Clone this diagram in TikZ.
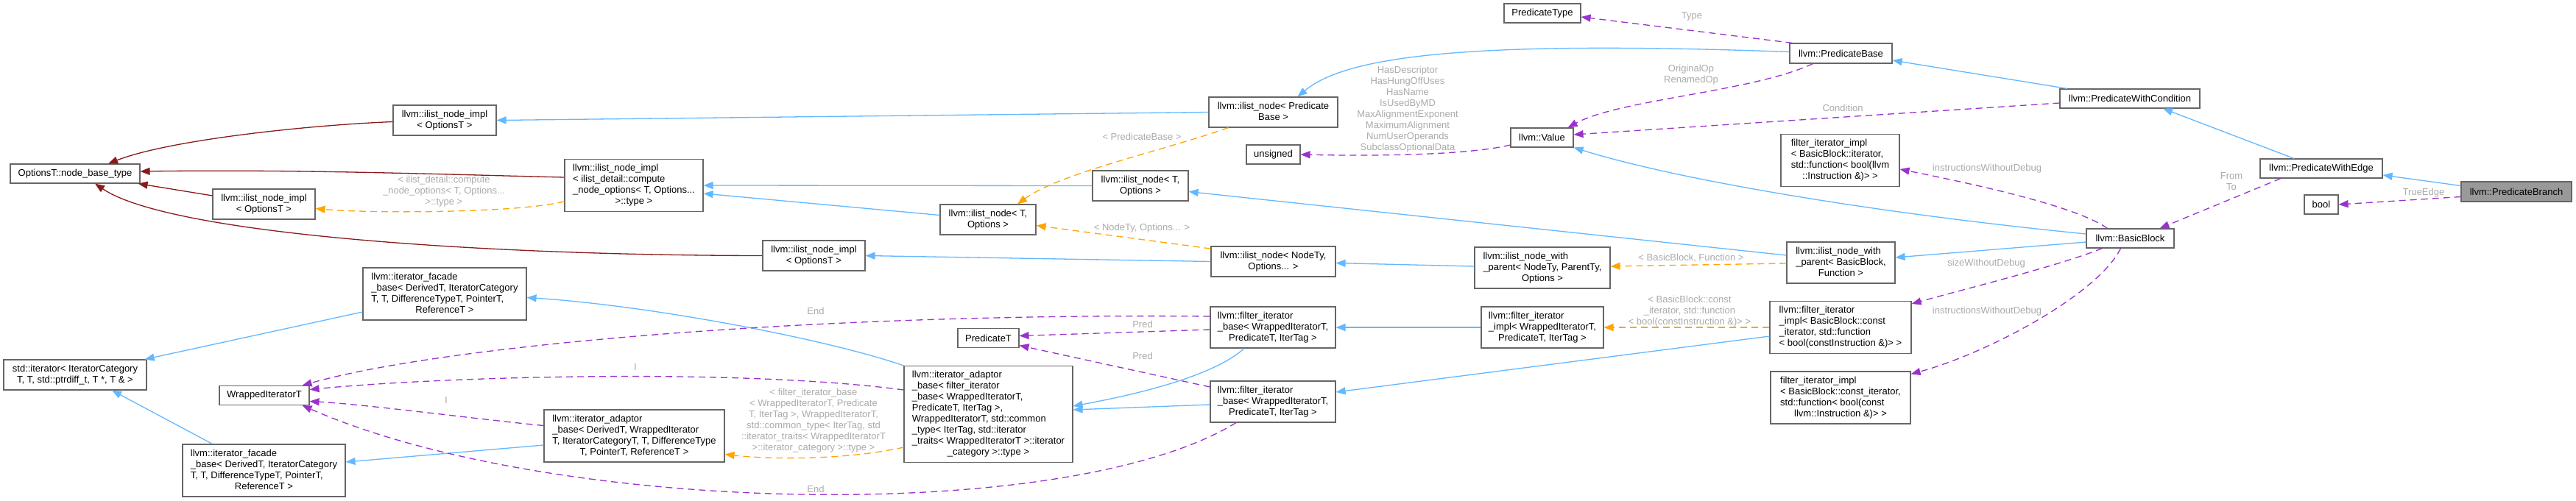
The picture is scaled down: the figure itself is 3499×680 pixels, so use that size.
\documentclass[tikz,border=0pt]{standalone}
\usepackage{fontspec}
\setmainfont{Liberation Sans}
\usetikzlibrary{arrows.meta}
\definecolor{inhblue}{HTML}{63B8FF}
\definecolor{usepurple}{HTML}{9A32CD}
\definecolor{tplorange}{HTML}{FFA500}
\definecolor{nbred}{HTML}{8B1A1A}
\definecolor{boxgray}{HTML}{666666}
\definecolor{lblgray}{HTML}{ABABAB}
\definecolor{selgray}{HTML}{999999}
\newcommand{\mlines}[2]{\begin{tabular}{@{}l@{}}#1\\\multicolumn{1}{@{}c@{}}{#2}\end{tabular}}
\tikzset{
  box/.style={draw=boxgray, line width=1.1pt, fill=white, inner sep=0pt, text=black,
    font=\fontsize{13}{15}\selectfont},
  sz/.style 2 args={minimum width=#1pt, minimum height=#2pt},
  lbl/.style={text=lblgray, inner sep=0pt, align=center, font=\fontsize{13}{15}\selectfont},
  tip/.style={-{Triangle[length=13pt,width=10pt]}},
  inhedge/.style={draw=inhblue, line width=1.3pt, tip},
  nbedge/.style={draw=nbred, line width=1.3pt, tip},
  usedge/.style={draw=usepurple, line width=1.3pt, dash pattern=on 9pt off 6pt, tip},
  tpledge/.style={draw=tplorange, line width=1.3pt, dash pattern=on 9pt off 6pt, tip},
}
\begin{document}
\begin{tikzpicture}[x=1pt,y=-1pt]
\fill[white] (0,0) rectangle (3499,680);
\useasboundingbox (0,0) rectangle (3499,680);

% ---------- nodes ----------
\node[box,sz={176}{26}] (nbt) at (102,236) {OptionsT::node\_base\_type};
\node[box,sz={140}{41}] (inimplA) at (604,163.5) {\mlines{llvm::ilist\_node\_impl}{< OptionsT >}};
\node[box,sz={139}{41}] (inimplB) at (358.5,277.5) {\mlines{llvm::ilist\_node\_impl}{< OptionsT >}};
\node[box,sz={188}{71}] (inimplC) at (861,252) {\mlines{llvm::ilist\_node\_impl\\< ilist\_detail::compute\\\_node\_options< T, Options...}{>::type >}};
\node[box,sz={139}{41}] (inimplD) at (1105.5,347.5) {\mlines{llvm::ilist\_node\_impl}{< OptionsT >}};
\node[box,sz={222}{71}] (facadeA) at (604,399.5) {\mlines{llvm::iterator\_facade\\\_base< DerivedT, IteratorCategory\\T, T, DifferenceTypeT, PointerT,}{ReferenceT >}};
\node[box,sz={194}{41}] (stditer) at (102,509.5) {\mlines{std::iterator< IteratorCategory}{T, T, std::ptrdiff\_t, T *, T \& >}};
\node[box,sz={122}{26}] (wrapped) at (359,537.5) {WrappedIteratorT};
\node[box,sz={221}{71}] (facadeB) at (358.5,639.5) {\mlines{llvm::iterator\_facade\\\_base< DerivedT, IteratorCategory\\T, T, DifferenceTypeT, PointerT,}{ReferenceT >}};
\node[box,sz={245}{71}] (adaptorA) at (861.5,592.5) {\mlines{llvm::iterator\_adaptor\\\_base< DerivedT, WrappedIterator\\T, IteratorCategoryT, T, DifferenceType}{T, PointerT, ReferenceT >}};
\node[box,sz={229}{131}] (adaptorB) at (1342.5,563) {\mlines{llvm::iterator\_adaptor\\\_base< filter\_iterator\\\_base< WrappedIteratorT,\\ PredicateT, IterTag >,\\ WrappedIteratorT, std::common\\\_type< IterTag, std::iterator\\\_traits< WrappedIteratorT >::iterator}{\_category >::type >}};
\node[box,sz={83}{26}] (predT) at (1342.5,459.5) {PredicateT};
\node[box,sz={130}{41}] (inodeT2) at (1342,298.5) {\mlines{llvm::ilist\_node< T,}{Options >}};
\node[box,sz={130}{41}] (inodeT1) at (1549,252.5) {\mlines{llvm::ilist\_node< T,}{Options >}};
\node[box,sz={175}{41}] (inodePB) at (1729.5,152.5) {\mlines{llvm::ilist\_node< Predicate}{Base >}};
\node[box,sz={169}{41}] (inodeNT) at (1729.5,355.5) {\mlines{llvm::ilist\_node< NodeTy,}{Options... >}};
\node[box,sz={170}{56}] (fibA) at (1729,445) {\mlines{llvm::filter\_iterator\\\_base< WrappedIteratorT,}{PredicateT, IterTag >}};
\node[box,sz={170}{56}] (fibB) at (1729,546) {\mlines{llvm::filter\_iterator\\\_base< WrappedIteratorT,}{PredicateT, IterTag >}};
\node[box,sz={73}{26}] (unsignedn) at (1729.5,210) {unsigned};
\node[box,sz={85}{26}] (value) at (2094.5,187) {llvm::Value};
\node[box,sz={104}{26}] (predtype) at (2095,18) {PredicateType};
\node[box,sz={139}{27}] (predbase) at (2500.5,72.5) {llvm::PredicateBase};
\node[box,sz={184}{56}] (inwpNT) at (2095,364) {\mlines{llvm::ilist\_node\_with\\\_parent< NodeTy, ParentTy,}{Options >}};
\node[box,sz={166}{56}] (fiiW) at (2095,445) {\mlines{llvm::filter\_iterator\\\_impl< WrappedIteratorT,}{PredicateT, IterTag >}};
\node[box,sz={147}{56}] (inwpBB) at (2500.5,357) {\mlines{llvm::ilist\_node\_with\\\_parent< BasicBlock,}{Function >}};
\node[box,sz={161}{71}] (fiiBBit) at (2499.5,218) {\mlines{filter\_iterator\_impl\\< BasicBlock::iterator,\\ std::function< bool(llvm}{::Instruction \&)> >}};
\node[box,sz={192}{71}] (fiiConst) at (2500,445) {\mlines{llvm::filter\_iterator\\\_impl< BasicBlock::const\\\_iterator, std::function}{< bool(constInstruction \&)> >}};
\node[box,sz={190}{71}] (fiiConst2) at (2500,540.5) {\mlines{filter\_iterator\_impl\\< BasicBlock::const\_iterator,\\ std::function< bool(const}{llvm::Instruction \&)> >}};
\node[box,sz={190}{26}] (predcond) at (2893,134) {llvm::PredicateWithCondition};
\node[box,sz={166}{26}] (prededge) at (3153,229) {llvm::PredicateWithEdge};
\node[box,sz={119}{26}] (bb) at (2893.5,324) {llvm::BasicBlock};
\node[box,sz={46}{26}] (booln) at (3153,278) {bool};
\node[box,sz={150}{27},fill=selgray] (predbranch) at (3418,260.5) {llvm::PredicateBranch};

% ---------- node_base_type edges (dark red) ----------
\draw[nbedge] ([yshift=-2pt]inimplA.west) .. controls (420,170) and (230,190) .. ([xshift=45pt]nbt.north);
\draw[nbedge] ([yshift=11pt]inimplC.west) .. controls (600,237) and (400,230) .. ([yshift=3pt]nbt.east);
\draw[nbedge] ([yshift=11.5pt]inimplB.west) -- ([xshift=-3pt]nbt.south east);
\draw[nbedge] (inimplD.west) .. controls (650,347) and (230,318) .. ([xshift=27pt]nbt.south);

% ---------- inheritance (blue) ----------
\draw[inhedge] ([yshift=6pt]inodeT2.west) -- ([yshift=-11pt]inimplC.east);
\draw[inhedge] (inodeT1.west) -- (inimplC.east);
\draw[inhedge] (inodePB.west) -- (inimplA.east);
\draw[inhedge] (inodeNT.west) -- (inimplD.east);
\draw[inhedge] ([yshift=10pt]inwpBB.west) -- ([yshift=-8pt]inodeT1.east);
\draw[inhedge] ([yshift=2pt]inwpNT.west) -- ([yshift=-2pt]inodeNT.east);
\draw[inhedge] ([yshift=2pt]predbase.west) .. controls (2000,55) and (1830,75) .. ([xshift=33pt]inodePB.north);
\draw[inhedge] ([xshift=-39pt]fibA.south) .. controls (1650,510) and (1550,535) .. ([yshift=11pt]adaptorB.east);
\draw[inhedge] ([yshift=-4pt]fibB.west) -- ([yshift=6pt]adaptorB.east);
\draw[inhedge] (fiiW.west) -- (fibA.east);
\draw[inhedge] ([yshift=-12pt]fiiConst.west) -- ([yshift=13pt]fibB.east);
\draw[inhedge] (adaptorB.north west) .. controls (1120,460) and (880,415) .. ([yshift=-5pt]facadeA.east);
\draw[inhedge] ([yshift=-12.5pt]adaptorA.west) -- ([yshift=11.5pt]facadeB.east);
\draw[inhedge] ([yshift=-24.5pt]facadeA.west) -- ([xshift=-3pt]stditer.north east);
\draw[inhedge] ([xshift=-70pt]facadeB.north) -- ([xshift=50pt]stditer.south);
\draw[inhedge] ([yshift=6pt]bb.west) .. controls (2550,290) and (2280,245) .. (value.south east);
\draw[inhedge] ([yshift=-5pt]bb.west) -- ([yshift=7pt]inwpBB.east);
\draw[inhedge] ([xshift=-85pt]predcond.north) -- ([yshift=-9.5pt]predbase.east);
\draw[inhedge] ([xshift=-37pt]prededge.north) -- ([xshift=45pt]predcond.south);
\draw[inhedge] ([yshift=8pt]predbranch.west) -- ([yshift=-9pt]prededge.east);

% ---------- usage (purple dashed) ----------
\draw[usedge] ([xshift=4pt]predbase.north west) -- ([yshift=-5pt]predtype.east);
\draw[usedge] ([xshift=-38pt]predbase.south) .. controls (2380,125) and (2200,135) .. ([xshift=-8pt]value.north east);
\draw[usedge] ([yshift=-6pt]predcond.west) -- ([yshift=4pt]value.east);
\draw[usedge] ([yshift=-10pt]value.west) .. controls (1990,212) and (1850,212) .. (unsignedn.east);
\draw[usedge] ([xshift=-31pt]bb.north) .. controls (2820,280) and (2680,250) .. ([yshift=-12pt]fiiBBit.east);
\draw[usedge] ([xshift=-38pt]bb.south) .. controls (2800,360) and (2680,390) .. ([yshift=-4pt]fiiConst.north east);
\draw[usedge] ([xshift=-13pt]bb.south) .. controls (2850,400) and (2700,480) .. ([yshift=-4pt]fiiConst2.north east);
\draw[usedge] ([xshift=-55pt]prededge.south) -- ([xshift=40pt]bb.north);
\draw[usedge] ([yshift=-7pt]predbranch.west) -- (booln.east);
\draw[usedge] ([yshift=-3pt]fibA.west) -- ([yshift=3pt]predT.east);
\draw[usedge] ([yshift=20pt]fibB.west) -- ([yshift=-10pt]predT.east);
\draw[usedge] ([yshift=15pt]fibA.west) .. controls (1100,425) and (600,470) .. ([xshift=-10pt]wrapped.north east);
\draw[usedge] ([yshift=33pt]adaptorB.west) .. controls (1000,500) and (600,512) .. ([yshift=8pt]wrapped.east);
\draw[usedge] ([yshift=14pt]adaptorA.west) .. controls (650,570) and (500,550) .. ([yshift=-8pt]wrapped.east);
\draw[usedge] ([xshift=-50pt]fibB.south) .. controls (1450,715) and (750,700) .. ([xshift=-10pt]wrapped.south east);

% ---------- template instances (orange dashed) ----------
\draw[tpledge] ([xshift=-61pt]inodePB.south) .. controls (1580,205) and (1440,235) .. ([xshift=40pt]inodeT2.north);
\draw[tpledge] ([yshift=17.5pt]inodeNT.west) -- ([yshift=-8pt]inodeT2.east);
\draw[tpledge] ([yshift=-22pt]inimplC.west) .. controls (700,290) and (500,290) .. ([yshift=-6pt]inimplB.east);
\draw[tpledge] ([yshift=-1pt]inwpBB.west) -- ([yshift=2pt]inwpNT.east);
\draw[tpledge] (fiiConst.west) -- (fiiW.east);
\draw[tpledge] ([yshift=-45pt]adaptorB.west) .. controls (1150,625) and (1050,625) .. ([yshift=-25pt]adaptorA.east);

% ---------- edge labels ----------
\node[lbl] (lType) at (2298,22) {Type};
\node[lbl] (lOrig) at (2297,101.5) {OriginalOp\\RenamedOp};
\node[lbl] (lCond) at (2503,147) {Condition};
\node[lbl] (lVal) at (1912,148.5) {HasDescriptor\\HasHungOffUses\\HasName\\IsUsedByMD\\MaxAlignmentExponent\\MaximumAlignment\\NumUserOperands\\SubclassOptionalData};
\node[lbl] (lIWD1) at (2699,229) {instructionsWithoutDebug};
\node[lbl] (lSWD) at (2698,358) {sizeWithoutDebug};
\node[lbl] (lIWD2) at (2699,423) {instructionsWithoutDebug};
\node[lbl] (lFromTo) at (3031,246.5) {From\\To};
\node[lbl] (lTrue) at (3292,262) {TrueEdge};
\node[lbl] (lPred1) at (1552,441) {Pred};
\node[lbl] (lPred2) at (1552,484) {Pred};
\node[lbl] (lEnd1) at (1108,423) {End};
\node[lbl] (lEnd2) at (1108,665) {End};
\node[lbl] (lI1) at (863,499) {I};
\node[lbl] (lI2) at (606,544) {I};
\node[lbl] (lPB) at (1551,186) {< PredicateBase >};
\node[lbl] (lNT) at (1551,310) {< NodeTy, Options... >};
\node[lbl] (lComp) at (603,260) {< ilist\_detail::compute\\\_node\_options< T, Options...\\>::type >};
\node[lbl] (lBBF) at (2297,351) {< BasicBlock, Function >};
\node[lbl] (lBBC) at (2295,423) {< BasicBlock::const\\\_iterator, std::function\\< bool(constInstruction \&)> >};
\node[lbl] (lAd) at (1105,571.5) {< filter\_iterator\_base\\< WrappedIteratorT, Predicate\\T, IterTag >, WrappedIteratorT,\\ std::common\_type< IterTag, std\\::iterator\_traits< WrappedIteratorT\\>::iterator\_category >::type >};
\end{tikzpicture}
\end{document}
